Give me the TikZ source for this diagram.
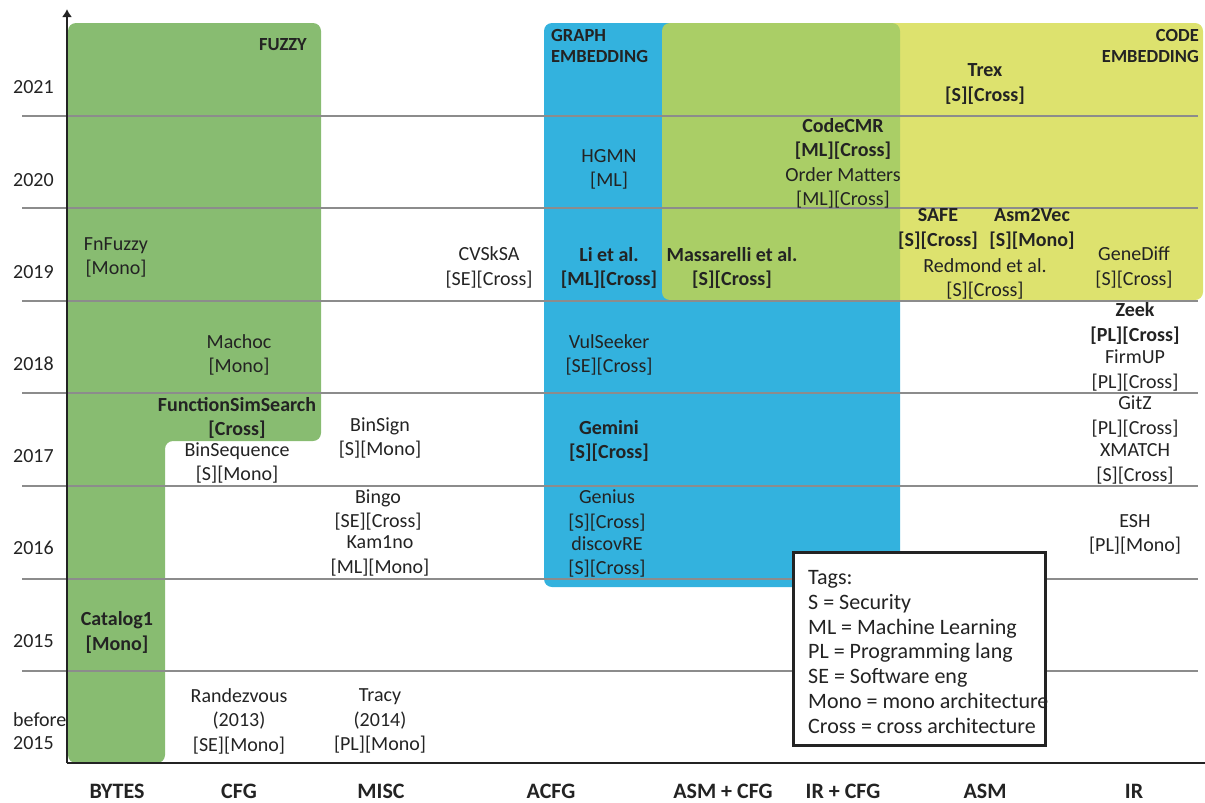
\documentclass[tikz,border=0pt]{standalone}
\usepackage{fontspec}
\setmainfont{Carlito}
\usepackage{tikz}
\usetikzlibrary{arrows.meta}
\definecolor{fuzzygreen}{RGB}{136,188,113}
\definecolor{graphblue}{RGB}{51,178,222}
\definecolor{codeyellow}{RGB}{210,216,62}
\definecolor{inkgray}{RGB}{35,35,35}
\definecolor{gridgray}{RGB}{140,140,140}
\tikzset{
  paper/.style={align=center, inner sep=0pt, text=inkgray, font=\fontsize{20}{24.5}\selectfont},
  paperbold/.style={paper, font=\fontsize{20}{24.5}\selectfont\bfseries},
  yearlabel/.style={anchor=west, align=left, inner sep=0pt, text=inkgray, font=\fontsize{20}{23}\selectfont},
  reprlabel/.style={inner sep=0pt, text=inkgray, font=\fontsize{22}{26}\selectfont\bfseries},
  regionlabel/.style={inner sep=0pt, text=inkgray, font=\fontsize{18.5}{21}\selectfont\bfseries},
  gridline/.style={gridgray, line width=1.2pt},
}
\begin{document}
\begin{tikzpicture}[x=1pt,y=-1pt]
            \useasboundingbox (0,0) rectangle (1205,803);

            % regions
            \fill[fuzzygreen, rounded corners=8pt] (68,23) -- (321,23) -- (321,441) -- (165,441) -- (165,763) -- (68,763) -- cycle;
            \fill[graphblue, rounded corners=8pt] (544,23) rectangle (900,587);
            \fill[codeyellow, opacity=0.75, rounded corners=8pt] (662,23) rectangle (1203,300);

            \node[regionlabel, anchor=east] (fuzzy) at (307,45) {FUZZY};
            \node[regionlabel, anchor=west, align=left] (graphemb) at (551,45.5) {GRAPH\\EMBEDDING};
            \node[regionlabel, anchor=east, align=right] (codeemb) at (1199,45.5) {CODE\\EMBEDDING};

            % year lines
            \draw[gridline] (22,116) -- (1198,116);
            \draw[gridline] (22,208) -- (1198,208);
            \draw[gridline] (22,301) -- (1198,301);
            \draw[gridline] (22,393) -- (1198,393);
            \draw[gridline] (22,486) -- (1198,486);
            \draw[gridline] (22,579) -- (1198,579);
            \draw[gridline] (22,671) -- (1198,671);

            % axes
            \coordinate (o) at (67,763);
            \coordinate (t) at (67,9);
            \coordinate (r) at (1205,763);
            \draw[inkgray, line width=2.5pt, -{Latex[length=8pt,width=10pt]}] (o) -- (t);
            \draw[inkgray, line width=2.5pt] (o) -- (r);

            \node[yearlabel] (y2021) at (13,87) {2021};
            \node[yearlabel] (y2020) at (13,180) {2020};
            \node[yearlabel] (y2019) at (13,272) {2019};
            \node[yearlabel] (y2018) at (13,364) {2018};
            \node[yearlabel] (y2017) at (13,456) {2017};
            \node[yearlabel] (y2016) at (13,548) {2016};
            \node[yearlabel] (y2015) at (13,641) {2015};
            \node[yearlabel] (ybefore) at (13,731.5) {before\\2015};

            \node[reprlabel] (bytes) at (117,791) {BYTES};
            \node[reprlabel] (cfg) at (239,791) {CFG};
            \node[reprlabel] (misc) at (381,791) {MISC};
            \node[reprlabel] (acfg) at (551,791) {ACFG};
            \node[reprlabel] (asmcfg) at (723,791) {ASM + CFG};
            \node[reprlabel] (ircfg) at (843,791) {IR + CFG};
            \node[reprlabel] (asm) at (985,791) {ASM};
            \node[reprlabel] (ir) at (1134,791) {IR};

            % bytes
            \node[paper] (fnfuzzy) at (116,257.5) {FnFuzzy\\{[Mono]}};
            \node[paperbold] (catalog) at (117,632.5) {Catalog1\\{[Mono]}};

            % cfg
            \node[paper] (machoc) at (239,355) {Machoc\\{[Mono]}};
            \node[paperbold] (fss) at (237,418) {FunctionSimSearch\\{[Cross]}};
            \node[paper] (binseq) at (237,463) {BinSequence\\{[S][Mono]}};
            \node[paper] (randez) at (239,721) {Randezvous\\(2013)\\{[SE][Mono]}};

            % misc
            \node[paper] (cvsksa) at (489,267.5) {CVSkSA\\{[SE][Cross]}};
            \node[paper] (binsign) at (380,438) {BinSign\\{[S][Mono]}};
            \node[paper] (bingo) at (378,510) {Bingo\\{[SE][Cross]}};
            \node[paper] (kam) at (380,556) {Kam1no\\{[ML][Mono]}};
            \node[paper] (tracy) at (380,721) {Tracy\\(2014)\\{[PL][Mono]}};

            % acfg
            \node[paper] (hgmn) at (609,169.5) {HGMN\\{[ML]}};
            \node[paperbold] (li) at (609,268) {Li et al.\\{[ML][Cross]}};
            \node[paper] (vulseeker) at (609,355) {VulSeeker\\{[SE][Cross]}};
            \node[paperbold] (gemini) at (609,441) {Gemini\\{[S][Cross]}};
            \node[paper] (genius) at (607,510.5) {Genius\\{[S][Cross]}};
            \node[paper] (discovre) at (607,557) {discovRE\\{[S][Cross]}};

            % asm + cfg, ir + cfg
            \node[paperbold] (massarelli) at (732,268) {Massarelli et al.\\{[S][Cross]}};
            \node[paperbold] (codecmr) at (843,139) {CodeCMR\\{[ML][Cross]}};
            \node[paper] (ordermatters) at (843,188) {Order Matters\\{[ML][Cross]}};

            % asm
            \node[paperbold] (trex) at (985,84) {Trex\\{[S][Cross]}};
            \node[paperbold] (safe) at (938,229) {SAFE\\{[S][Cross]}};
            \node[paperbold] (asmvec) at (1032,229) {Asm2Vec\\{[S][Mono]}};
            \node[paper] (redmond) at (985,279) {Redmond et al.\\{[S][Cross]}};

            % ir
            \node[paper] (genediff) at (1134,267.5) {GeneDiff\\{[S][Cross]}};
            \node[paperbold] (zeek) at (1135,323.5) {Zeek\\{[PL][Cross]}};
            \node[paper] (firmup) at (1135,370.5) {FirmUP\\{[PL][Cross]}};
            \node[paper] (gitz) at (1135,416.5) {GitZ\\{[PL][Cross]}};
            \node[paper] (xmatch) at (1135,464) {XMATCH\\{[S][Cross]}};
            \node[paper] (esh) at (1135,534.5) {ESH\\{[PL][Mono]}};

            % tags
            \draw[fill=white, draw=inkgray, line width=3pt] (793,552) rectangle (1045,745);
            \node[anchor=west, align=left, inner sep=0pt, text=inkgray, font=\fontsize{22}{24.7}\selectfont] (tags) at (808,652)
                {Tags:\\S = Security\\ML = Machine Learning\\PL = Programming lang\\SE = Software eng\\Mono = mono architecture\\Cross = cross architecture};
        \end{tikzpicture}
\end{document}
